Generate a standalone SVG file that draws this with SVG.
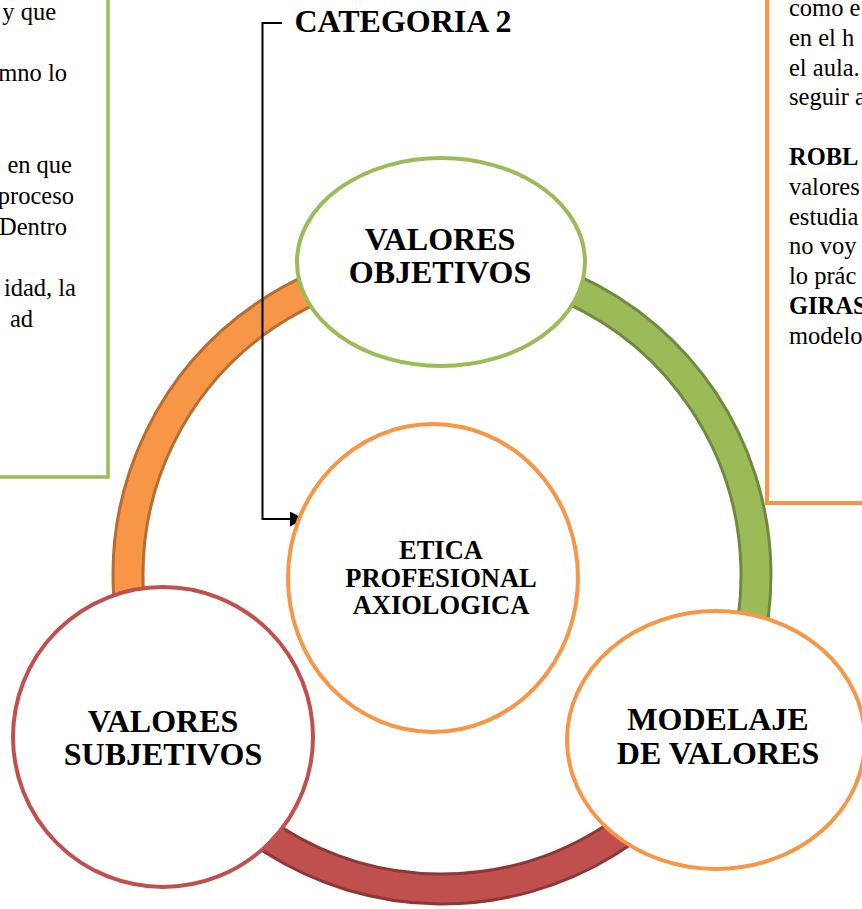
<svg xmlns="http://www.w3.org/2000/svg" width="862" height="909" viewBox="0 0 862 909">
<style>
.body{font-family:"Liberation Serif","Times New Roman",serif;font-size:24.5px;fill:#000}
.b{font-weight:bold}
.lbl{font-family:"Liberation Serif","Times New Roman",serif;font-weight:bold;fill:#000;text-anchor:middle}
.node{fill:#fff;stroke-width:4}
.conn{fill:none;stroke:#000;stroke-width:2}
</style>
<defs>
<marker id="arr" markerUnits="userSpaceOnUse" markerWidth="16" markerHeight="16" refX="14" refY="7.5" orient="auto">
<path d="M0,0 L14,7.5 L0,15 Z" fill="#000"/>
</marker>
</defs>
<rect width="862" height="909" fill="#fff"/>

<g id="box-left">
<rect x="-20" y="-20" width="128" height="497" fill="#fff" stroke="#9BBB59" stroke-width="3.5"/>
<g class="body" text-anchor="end">
<text x="56" y="20">y que</text>
<text x="67" y="81">mno lo</text>
<text x="72" y="173">en que</text>
<text x="74" y="204">proceso</text>
<text x="67" y="235">Dentro</text>
<text x="76" y="296">idad, la</text>
<text x="33" y="327">ad</text>
</g>
</g>

<g id="box-right">
<rect x="767" y="-20" width="120" height="523" fill="#fff" stroke="#F79646" stroke-width="4"/>
<g class="body">
<text x="789" y="16">como e</text>
<text x="789" y="46">en el h</text>
<text x="789" y="76">el aula.</text>
<text x="789" y="105">seguir a</text>
<text x="789" y="165" class="b">ROBL</text>
<text x="789" y="195">valores</text>
<text x="789" y="225">estudia</text>
<text x="789" y="254">no voy</text>
<text x="789" y="284">lo prác</text>
<text x="789" y="314" class="b">GIRAS</text>
<text x="789" y="344">modelo</text>
</g>
</g>

<g id="ring">
<path d="M157.1,739.5 A329,329 0 0 1 396.2,249.2 L400.4,278.9 A299,299 0 0 0 183.1,724.5 Z" fill="#F79646" stroke="#B66D31" stroke-width="3"/>
<path d="M396.2,249.2 A329,329 0 0 1 724.0,744.4 L698.3,729.0 A299,299 0 0 0 400.4,278.9 Z" fill="#9BBB59" stroke="#71893F" stroke-width="3"/>
<path d="M724.0,744.4 A329,329 0 0 1 157.1,739.5 L183.1,724.5 A299,299 0 0 0 698.3,729.0 Z" fill="#C0504D" stroke="#8C3836" stroke-width="3"/>
</g>

<g id="connectors">
<path class="conn" d="M282,23 H262.5 V519 H304" marker-end="url(#arr)"/>
</g>

<g id="title">
<text class="lbl" x="403" y="32" font-size="32">CATEGORIA 2</text>
</g>

<g id="node-objetivos">
<ellipse class="node" cx="441" cy="262" rx="144" ry="104" stroke="#9BBB59"/>
<text class="lbl" x="440" y="250" font-size="32">VALORES</text>
<text class="lbl" x="440" y="283" font-size="32">OBJETIVOS</text>
</g>

<g id="node-etica">
<ellipse class="node" cx="433" cy="578" rx="145" ry="154" stroke="#F79646"/>
<text class="lbl" x="441" y="559" font-size="26.5">ETICA</text>
<text class="lbl" x="441" y="587" font-size="26.5">PROFESIONAL</text>
<text class="lbl" x="441" y="614" font-size="26.5">AXIOLOGICA</text>
</g>

<g id="node-subjetivos">
<circle class="node" cx="163" cy="737" r="150" stroke="#C0504D"/>
<text class="lbl" x="163" y="732" font-size="32">VALORES</text>
<text class="lbl" x="163" y="765" font-size="32">SUBJETIVOS</text>
</g>

<g id="node-modelaje">
<ellipse class="node" cx="716" cy="740" rx="149" ry="129" stroke="#F79646"/>
<text class="lbl" x="718" y="730" font-size="32">MODELAJE</text>
<text class="lbl" x="718" y="764" font-size="32">DE VALORES</text>
</g>
</svg>
